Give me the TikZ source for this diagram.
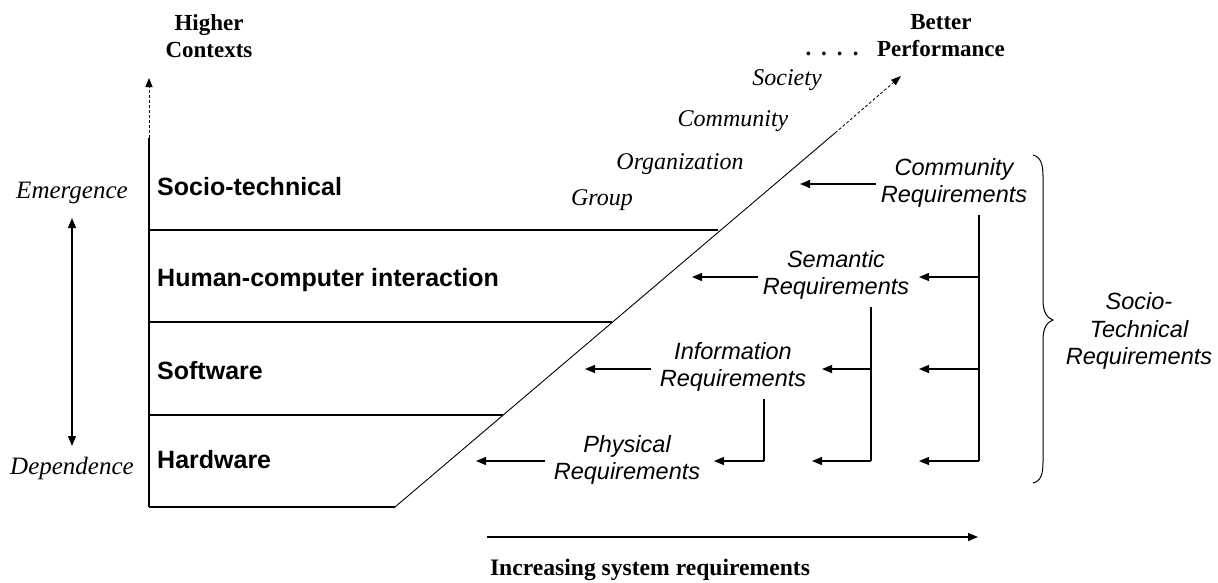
\documentclass[tikz,border=0pt]{standalone}
\usepackage{fontspec}
\setmainfont{Liberation Serif}
\setsansfont{Liberation Sans}
\usetikzlibrary{arrows.meta}
\tikzset{
  arr/.style={line width=1.3pt, -{Triangle[length=10pt,width=8pt]}},
  barline/.style={line width=2pt},
  layer/.style={font=\fontsize{25}{30}\selectfont\sffamily\bfseries, anchor=west, inner sep=0pt},
  req/.style={font=\fontsize{23.5}{27.5}\selectfont\sffamily\itshape, align=center, inner sep=5pt},
  lvl/.style={font=\fontsize{24}{28}\selectfont\itshape, inner sep=0pt},
  ttl/.style={font=\fontsize{23}{27}\selectfont\bfseries, align=center, inner sep=0pt},
}
\begin{document}
\begin{tikzpicture}[x=1pt,y=-1pt]
\useasboundingbox (0,0) rectangle (1218,582);

% titles
\node[ttl] (hc) at (209,36) {Higher\\Contexts};
\node[ttl] (bp) at (941,36) {Better\\Performance};
\node[ttl, anchor=base] (dots) at (832,55) {.\hspace{10pt}.\hspace{10pt}.\hspace{10pt}.};
\node[ttl, font=\fontsize{23.6}{27}\selectfont\bfseries] (isr) at (650,570) {Increasing system requirements};

% levels
\node[lvl] (soc) at (787,80) {Society};
\node[lvl] (com) at (733,121) {Community};
\node[lvl] (org) at (680,164) {Organization};
\node[lvl] (grp) at (602,200) {Group};
\node[lvl, font=\fontsize{25}{28}\selectfont\itshape] (em) at (72,193) {Emergence};
\node[lvl, font=\fontsize{25}{28}\selectfont\itshape] (dep) at (72,468) {Dependence};

% layers
\node[layer] (st) at (157,187) {Socio-technical};
\node[layer] (hci) at (157,280) {Human-computer interaction};
\node[layer] (sw) at (157,371) {Software};
\node[layer] (hw) at (157,460) {Hardware};

% main frame
\coordinate (ax0) at (149,507);
\coordinate (ax1) at (149,138);
\coordinate (ax2) at (149,78);
\draw[line width=1.5pt] (ax0) -- (ax1);
\draw[line width=0.8pt, dash pattern=on 3pt off 2pt, -{Triangle[length=9pt,width=7pt]}] (ax1) -- (ax2);

\coordinate (d0) at (395,507);
\coordinate (d1) at (503,415);
\coordinate (d2) at (612,322);
\coordinate (d3) at (718,230);
\coordinate (d4) at (835,133);
\coordinate (d5) at (901,76);
\draw[barline] (ax0) -- (d0);
\draw[barline] (149,415) -- (d1);
\draw[barline] (149,322) -- (d2);
\draw[barline] (149,230) -- (d3);
\draw[line width=0.9pt] (d0) -- (d4);
\draw[line width=0.8pt, dash pattern=on 3pt off 2pt, -{Triangle[length=10pt,width=7pt]}] (d4) -- (d5);

% emergence / dependence
\coordinate (ed1) at (72,218);
\coordinate (ed2) at (72,446);
\draw[line width=1.3pt, {Triangle[length=10pt,width=8pt]}-{Triangle[length=10pt,width=8pt]}] (ed1) -- (ed2);

% requirements
\node[req] (commreq) at (954,183) {Community\\Requirements};
\node[req] (semreq) at (836,275) {Semantic\\Requirements};
\node[req] (inforeq) at (733,367) {Information\\Requirements};
\node[req] (physreq) at (627,460) {Physical\\Requirements};
\node[req] (streq) at (1139,331) {Socio-\\Technical\\Requirements};

% arrows from requirement nodes to layers
\coordinate (t1) at (800,184);
\coordinate (t2) at (692,277);
\coordinate (t3) at (585,369);
\coordinate (t4) at (476,461);
\draw[arr] (commreq.west |- t1) -- (t1);
\draw[arr] (semreq.west |- t2) -- (t2);
\draw[arr] ([xshift=-4pt]inforeq.west |- t3) -- (t3);
\draw[arr] ([xshift=-4pt]physreq.west |- t4) -- (t4);

% community branch
\coordinate (cv0) at (979,215);
\coordinate (cv1) at (979,277);
\coordinate (cv2) at (979,369);
\coordinate (cv3) at (979,461);
\coordinate (ca1) at (919,277);
\coordinate (ca2) at (919,369);
\coordinate (ca3) at (919,461);
\draw[line width=1.3pt] (cv0) -- (cv3);
\draw[arr] (cv1) -- (ca1);
\draw[arr] (cv2) -- (ca2);
\draw[arr] (cv3) -- (ca3);

% semantic branch
\coordinate (sv0) at (871,307);
\coordinate (sv1) at (871,369);
\coordinate (sv2) at (871,461);
\coordinate (sa1) at (822,369);
\coordinate (sa2) at (812,461);
\draw[line width=1.3pt] (sv0) -- (sv2);
\draw[arr] (sv1) -- (sa1);
\draw[arr] (sv2) -- (sa2);

% information branch
\coordinate (iv0) at (764,399);
\coordinate (iv1) at (764,461);
\coordinate (ia1) at (714,461);
\draw[line width=1.3pt] (iv0) -- (iv1);
\draw[arr] (iv1) -- (ia1);

% brace
\draw[line width=1pt] (1033,155) .. controls (1041,157) and (1043,165) .. (1043,176)
  -- (1043,300) .. controls (1043,312) and (1047,318) .. (1053,320)
  .. controls (1047,322) and (1043,328) .. (1043,340)
  -- (1043,462) .. controls (1043,474) and (1041,481) .. (1033,483);

% increasing arrow
\coordinate (ia0) at (487,537);
\coordinate (iaE) at (978,537);
\draw[arr] (ia0) -- (iaE);
\end{tikzpicture}
\end{document}
